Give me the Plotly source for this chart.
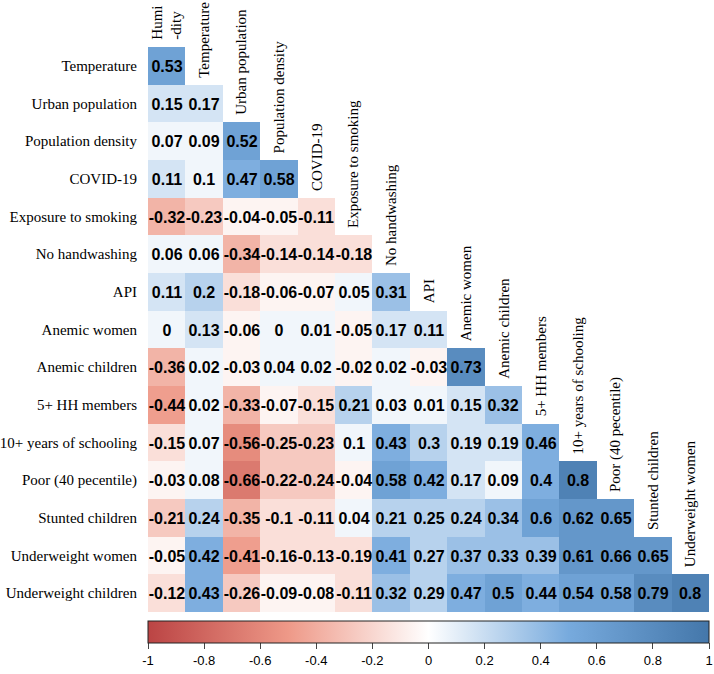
import numpy as np
import plotly.graph_objects as go

row_labels = ["Temperature", "Urban population", "Population density", "COVID-19",
              "Exposure to smoking", "No handwashing", "API", "Anemic women",
              "Anemic children", "5+ HH members", "10+ years of schooling",
              "Poor (40 pecentile)", "Stunted children", "Underweight women",
              "Underweight children"]
col_labels = ["Humi<br>-dity", "Temperature", "Urban population", "Population density",
              "COVID-19", "Exposure to smoking", "No handwashing", "API", "Anemic women",
              "Anemic children", "5+ HH members", "10+ years of schooling",
              "Poor (40 pecentile)", "Stunted children", "Underweight women"]

# lower-triangular correlations, row i has i+1 values
corr_rows = [
    [0.53],
    [0.15, 0.17],
    [0.07, 0.09, 0.52],
    [0.11, 0.1, 0.47, 0.58],
    [-0.32, -0.23, -0.04, -0.05, -0.11],
    [0.06, 0.06, -0.34, -0.14, -0.14, -0.18],
    [0.11, 0.2, -0.18, -0.06, -0.07, 0.05, 0.31],
    [0, 0.13, -0.06, 0, 0.01, -0.05, 0.17, 0.11],
    [-0.36, 0.02, -0.03, 0.04, 0.02, -0.02, 0.02, -0.03, 0.73],
    [-0.44, 0.02, -0.33, -0.07, -0.15, 0.21, 0.03, 0.01, 0.15, 0.32],
    [-0.15, 0.07, -0.56, -0.25, -0.23, 0.1, 0.43, 0.3, 0.19, 0.19, 0.46],
    [-0.03, 0.08, -0.66, -0.22, -0.24, -0.04, 0.58, 0.42, 0.17, 0.09, 0.4, 0.8],
    [-0.21, 0.24, -0.35, -0.1, -0.11, 0.04, 0.21, 0.25, 0.24, 0.34, 0.6, 0.62, 0.65],
    [-0.05, 0.42, -0.41, -0.16, -0.13, -0.19, 0.41, 0.27, 0.37, 0.33, 0.39, 0.61, 0.66, 0.65],
    [-0.12, 0.43, -0.26, -0.09, -0.08, -0.11, 0.32, 0.29, 0.47, 0.5, 0.44, 0.54, 0.58, 0.79, 0.8],
]

cbar_tickvals = [-1, -0.8, -0.6, -0.4, -0.2, 0, 0.2, 0.4, 0.6, 0.8, 1]
cbar_ticktext = ["-1", "-0.8", "-0.6", "-0.4", "-0.2", "0", "0.2", "0.4", "0.6", "0.8", "1"]

palette = ["#BB4444", "#EE9988", "#FFFFFF", "#77AADD", "#4477AA"]

n = len(row_labels)
z = np.full((n, n), np.nan)
text = [["" for _ in range(n)] for _ in range(n)]
for i, vals in enumerate(corr_rows):
    for j, v in enumerate(vals):
        z[i, j] = v
        text[i][j] = f"{v:g}"


def hex2rgb(h):
    h = h.lstrip("#")
    return tuple(int(h[k:k + 2], 16) for k in (0, 2, 4))


def ramp(p):  # p in [0,1]
    seg = p * (len(palette) - 1)
    k = min(int(seg), len(palette) - 2)
    t = seg - k
    a, b = hex2rgb(palette[k]), hex2rgb(palette[k + 1])
    c = [round(a[m] + (b[m] - a[m]) * t) for m in range(3)]
    return f"rgb({c[0]},{c[1]},{c[2]})"


nbins = 20
binned_scale = []
for k in range(nbins):
    col = ramp(k / (nbins - 1))
    binned_scale.append([k / nbins, col])
    binned_scale.append([(k + 1) / nbins, col])

cont_scale = [[i / (len(palette) - 1), c] for i, c in enumerate(palette)]

fig = go.Figure()
fig.add_trace(go.Heatmap(
    z=z, x=list(range(n)), y=list(range(n)),
    text=text, texttemplate="<b>%{text}</b>",
    textfont=dict(family="Liberation Sans", size=16, color="black"),
    colorscale=binned_scale, zmin=-1, zmax=1, showscale=False,
    hoverinfo="skip",
))
fig.add_trace(go.Scatter(
    x=[None, None], y=[None, None], mode="markers", hoverinfo="skip",
    marker=dict(color=[-1, 1], cmin=-1, cmax=1, colorscale=cont_scale, showscale=True,
                colorbar=dict(orientation="h", x=0.5, xanchor="center", y=-0.016,
                              yanchor="top", len=1, lenmode="fraction", thickness=22,
                              xpad=0, ypad=0, outlinewidth=1, outlinecolor="#222",
                              tickmode="array", tickvals=cbar_tickvals,
                              ticktext=cbar_ticktext, ticks="outside", ticklen=6,
                              tickcolor="#444", ticklabeloverflow="allow",
                              tickfont=dict(family="Liberation Sans", size=13, color="black"))),
    showlegend=False,
))

for j, lab in enumerate(col_labels):
    fig.add_annotation(x=j, y=j - 0.5, xref="x", yref="y", text=lab, showarrow=False,
                       textangle=-90, xanchor="center", yanchor="bottom", yshift=5,
                       align="left",
                       font=dict(family="Liberation Serif", size=15, color="black"))

fig.update_layout(
    width=714, height=674,
    margin=dict(l=148, r=5, t=47, b=62, autoexpand=False),
    paper_bgcolor="white", plot_bgcolor="white", showlegend=False,
)
fig.update_xaxes(range=[-0.5, n - 0.5], showticklabels=False, showgrid=False,
                 zeroline=False, ticks="")
fig.update_yaxes(range=[n - 0.5, -0.5], tickmode="array", tickvals=list(range(n)),
                 ticktext=row_labels, showgrid=False, zeroline=False, ticks="",
                 ticklabelstandoff=10,
                 tickfont=dict(family="Liberation Serif", size=15, color="black"))

fig.write_html("out.html", config={"displayModeBar": False},
               post_script="document.body.style.margin='0';")
